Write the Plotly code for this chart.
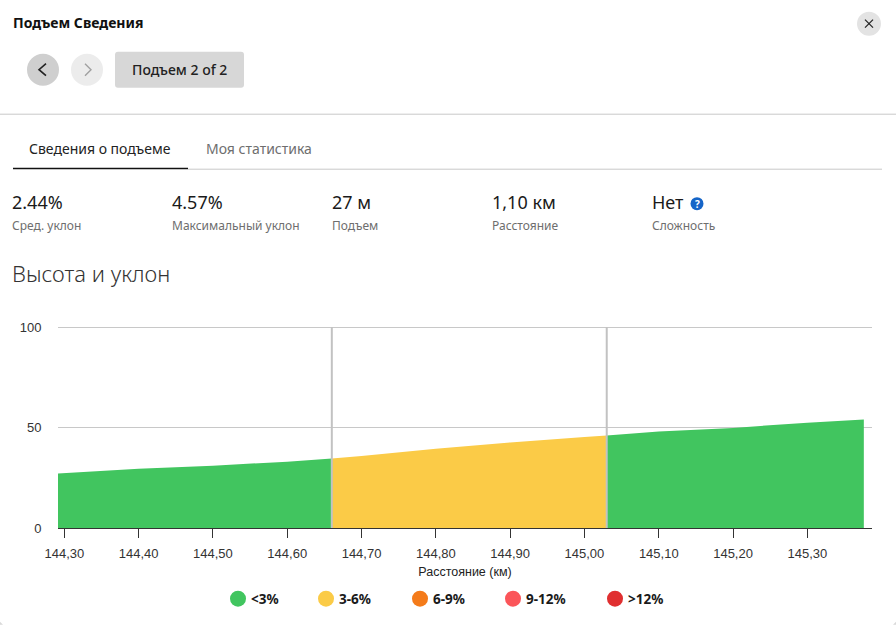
import plotly.graph_objects as go

# profile (km, m)
dist_low_1 = [144.2915, 144.40, 144.50, 144.60, 144.66]
elev_low_1 = [27.1, 29.5, 31.0, 33.0, 34.6]
dist_mid = [144.66, 144.70, 144.80, 144.90, 145.00, 145.03]
elev_mid = [34.6, 35.8, 39.4, 42.6, 45.3, 46.0]
dist_low_2 = [145.03, 145.10, 145.20, 145.30, 145.376]
elev_low_2 = [46.0, 48.0, 49.8, 52.4, 54.0]

x_ticks = [144.3, 144.4, 144.5, 144.6, 144.7, 144.8, 144.9, 145.0, 145.1, 145.2, 145.3]
y_ticks = [0, 50, 100]
climb_edges = [144.66, 145.03]

legend_names = ["<3%", "3-6%", "6-9%", "9-12%", ">12%"]
legend_colors = ["#41c55f", "#fbcb47", "#f47b1a", "#fb5559", "#e02f30"]

stat_values = ["2.44%", "4.57%", "27 м", "1,10 км", "Нет"]
stat_labels = ["Сред. уклон", "Максимальный уклон", "Подъем", "Расстояние", "Сложность"]

W, H = 896, 625
L, R, T, B = 58, 872, 325.3, 528.3
UI_FONT = "Noto Sans"
CHART_FONT = "Liberation Sans"


# page pixels to paper coordinates, everything around the chart is placed this way
def px(x):
    return (x - L) / (R - L)


def py(y):
    return (B - y) / (B - T)


fig = go.Figure()

for xs, ys, color in [(dist_low_1, elev_low_1, legend_colors[0]),
                      (dist_mid, elev_mid, legend_colors[1]),
                      (dist_low_2, elev_low_2, legend_colors[0])]:
    fig.add_trace(go.Scatter(x=xs, y=ys, mode="lines", fill="tozeroy",
                             fillcolor=color, line=dict(width=0, color=color),
                             showlegend=False, hoverinfo="skip"))


def text(x, y, s, size, color="#1a1a1a", family=UI_FONT, anchor="left", weight=None):
    # annotations carry about 2px of padding, take it back on left aligned text
    if anchor == "left":
        x = x - 2
    fig.add_annotation(x=px(x), y=py(y), xref="paper", yref="paper", text=s, showarrow=False,
                       xanchor=anchor, yanchor="middle", align=anchor,
                       font=dict(size=size, color=color, family=family, weight=weight))


def circle(cx, cy, r, color):
    fig.add_shape(type="circle", xref="paper", yref="paper", x0=px(cx - r), x1=px(cx + r),
                  y0=py(cy + r), y1=py(cy - r), fillcolor=color, line_width=0)


def hline(x0, x1, y, color, width=1):
    fig.add_shape(type="line", xref="paper", yref="paper", x0=px(x0), x1=px(x1),
                  y0=py(y), y1=py(y), line=dict(color=color, width=width))


def stroke(points, color, width=1.2):
    path = "M " + " L ".join(f"{px(a):.5f} {py(b):.5f}" for a, b in points)
    fig.add_shape(type="path", xref="paper", yref="paper", path=path,
                  line=dict(color=color, width=width))


# header
text(13, 23, "Подъем Сведения", 14, color="#111111", weight=700)
circle(869, 24, 12, "#e3e3e3")
stroke([(865, 20), (873, 28)], "#222222")
stroke([(873, 20), (865, 28)], "#222222")

circle(43, 70, 16, "#cfcfcf")
stroke([(46, 64), (39, 70), (46, 76)], "#222222", 1.6)
circle(87, 70, 16, "#ececec")
stroke([(85, 64), (91, 70), (85, 76)], "#a0a0a0", 1.4)
fig.add_shape(type="path", xref="paper", yref="paper", fillcolor="#d7d7d7", line_width=0,
              path=(f"M {px(118)} {py(52)} L {px(241)} {py(52)} Q {px(244)} {py(52)} {px(244)} {py(55)} "
                    f"L {px(244)} {py(85)} Q {px(244)} {py(88)} {px(241)} {py(88)} "
                    f"L {px(118)} {py(88)} Q {px(115)} {py(88)} {px(115)} {py(85)} "
                    f"L {px(115)} {py(55)} Q {px(115)} {py(52)} {px(118)} {py(52)} Z"))
text(179.5, 69.5, "Подъем 2 of 2", 14, color="#222222", anchor="center", weight=500)
hline(0, 896, 114.5, "#c8c8c8")

# tabs
text(29, 148.5, "Сведения о подъеме", 14, color="#222222")
text(206, 148.5, "Моя статистика", 14, color="#6e6e6e")
hline(188, 882, 169.5, "#c8c8c8")
hline(13, 188, 168.8, "#111111", 1.5)

# stats row
stat_x = [12, 172, 332, 492, 652]
for x, value, label in zip(stat_x, stat_values, stat_labels):
    text(x, 202, value, 18, color="#1a1a1a")
    text(x, 225.5, label, 12, color="#6e6e6e")
circle(697, 204, 6.5, "#1565c8")
text(697, 204, "?", 10, color="#ffffff", anchor="center", weight=700)

text(12, 273.5, "Высота и уклон", 22, color="#333333", weight=300)

# grade lines through the whole plot height
for edge in climb_edges:
    fig.add_shape(type="line", xref="x", yref="y", x0=edge, x1=edge, y0=0, y1=100,
                  line=dict(color="#c2c2c2", width=2), layer="above")

# legend
legend_cx = [238, 326, 420, 513, 615]
for cx, name, color in zip(legend_cx, legend_names, legend_colors):
    circle(cx, 599, 8, color)
    text(cx + 13, 599, name, 13.5, color="#1a1a1a", weight=700)

# rounded window corners at the bottom of the screenshot
for corner in [[(0, 622), (0, 625), (3, 625)], [(896, 622), (896, 625), (893, 625)]]:
    path = "M " + " L ".join(f"{px(a):.5f} {py(b):.5f}" for a, b in corner) + " Z"
    fig.add_shape(type="path", xref="paper", yref="paper", path=path,
                  fillcolor="#d9d9d9", line_width=0)

fig.update_xaxes(range=[144.2915, 145.387], tickvals=x_ticks, tickformat=".2f",
                 ticks="outside", ticklen=9, tickwidth=1, tickcolor="#333333",
                 ticklabelstandoff=4,
                 showline=True, linecolor="#333333", linewidth=1, showgrid=False, zeroline=False,
                 tickfont=dict(family=CHART_FONT, size=13, color="#333333"),
                 title=dict(text="Расстояние (км)", standoff=7,
                            font=dict(family=CHART_FONT, size=12.5, color="#222222")))
fig.update_yaxes(range=[0, 101], tickvals=y_ticks, showgrid=True, gridcolor="#c8c8c8", gridwidth=1,
                 zeroline=False, showline=False, ticks="outside", ticklen=13, tickcolor="rgba(0,0,0,0)",
                 tickfont=dict(family=CHART_FONT, size=13, color="#333333"))
fig.update_layout(width=W, height=H, autosize=False, separators=", ",
                  margin=dict(l=L, r=W - R, t=T, b=H - B, pad=0),
                  plot_bgcolor="white", paper_bgcolor="white", showlegend=False)

fig.write_html("out.html", config=dict(displayModeBar=False),
               post_script="document.body.style.margin='0';")
